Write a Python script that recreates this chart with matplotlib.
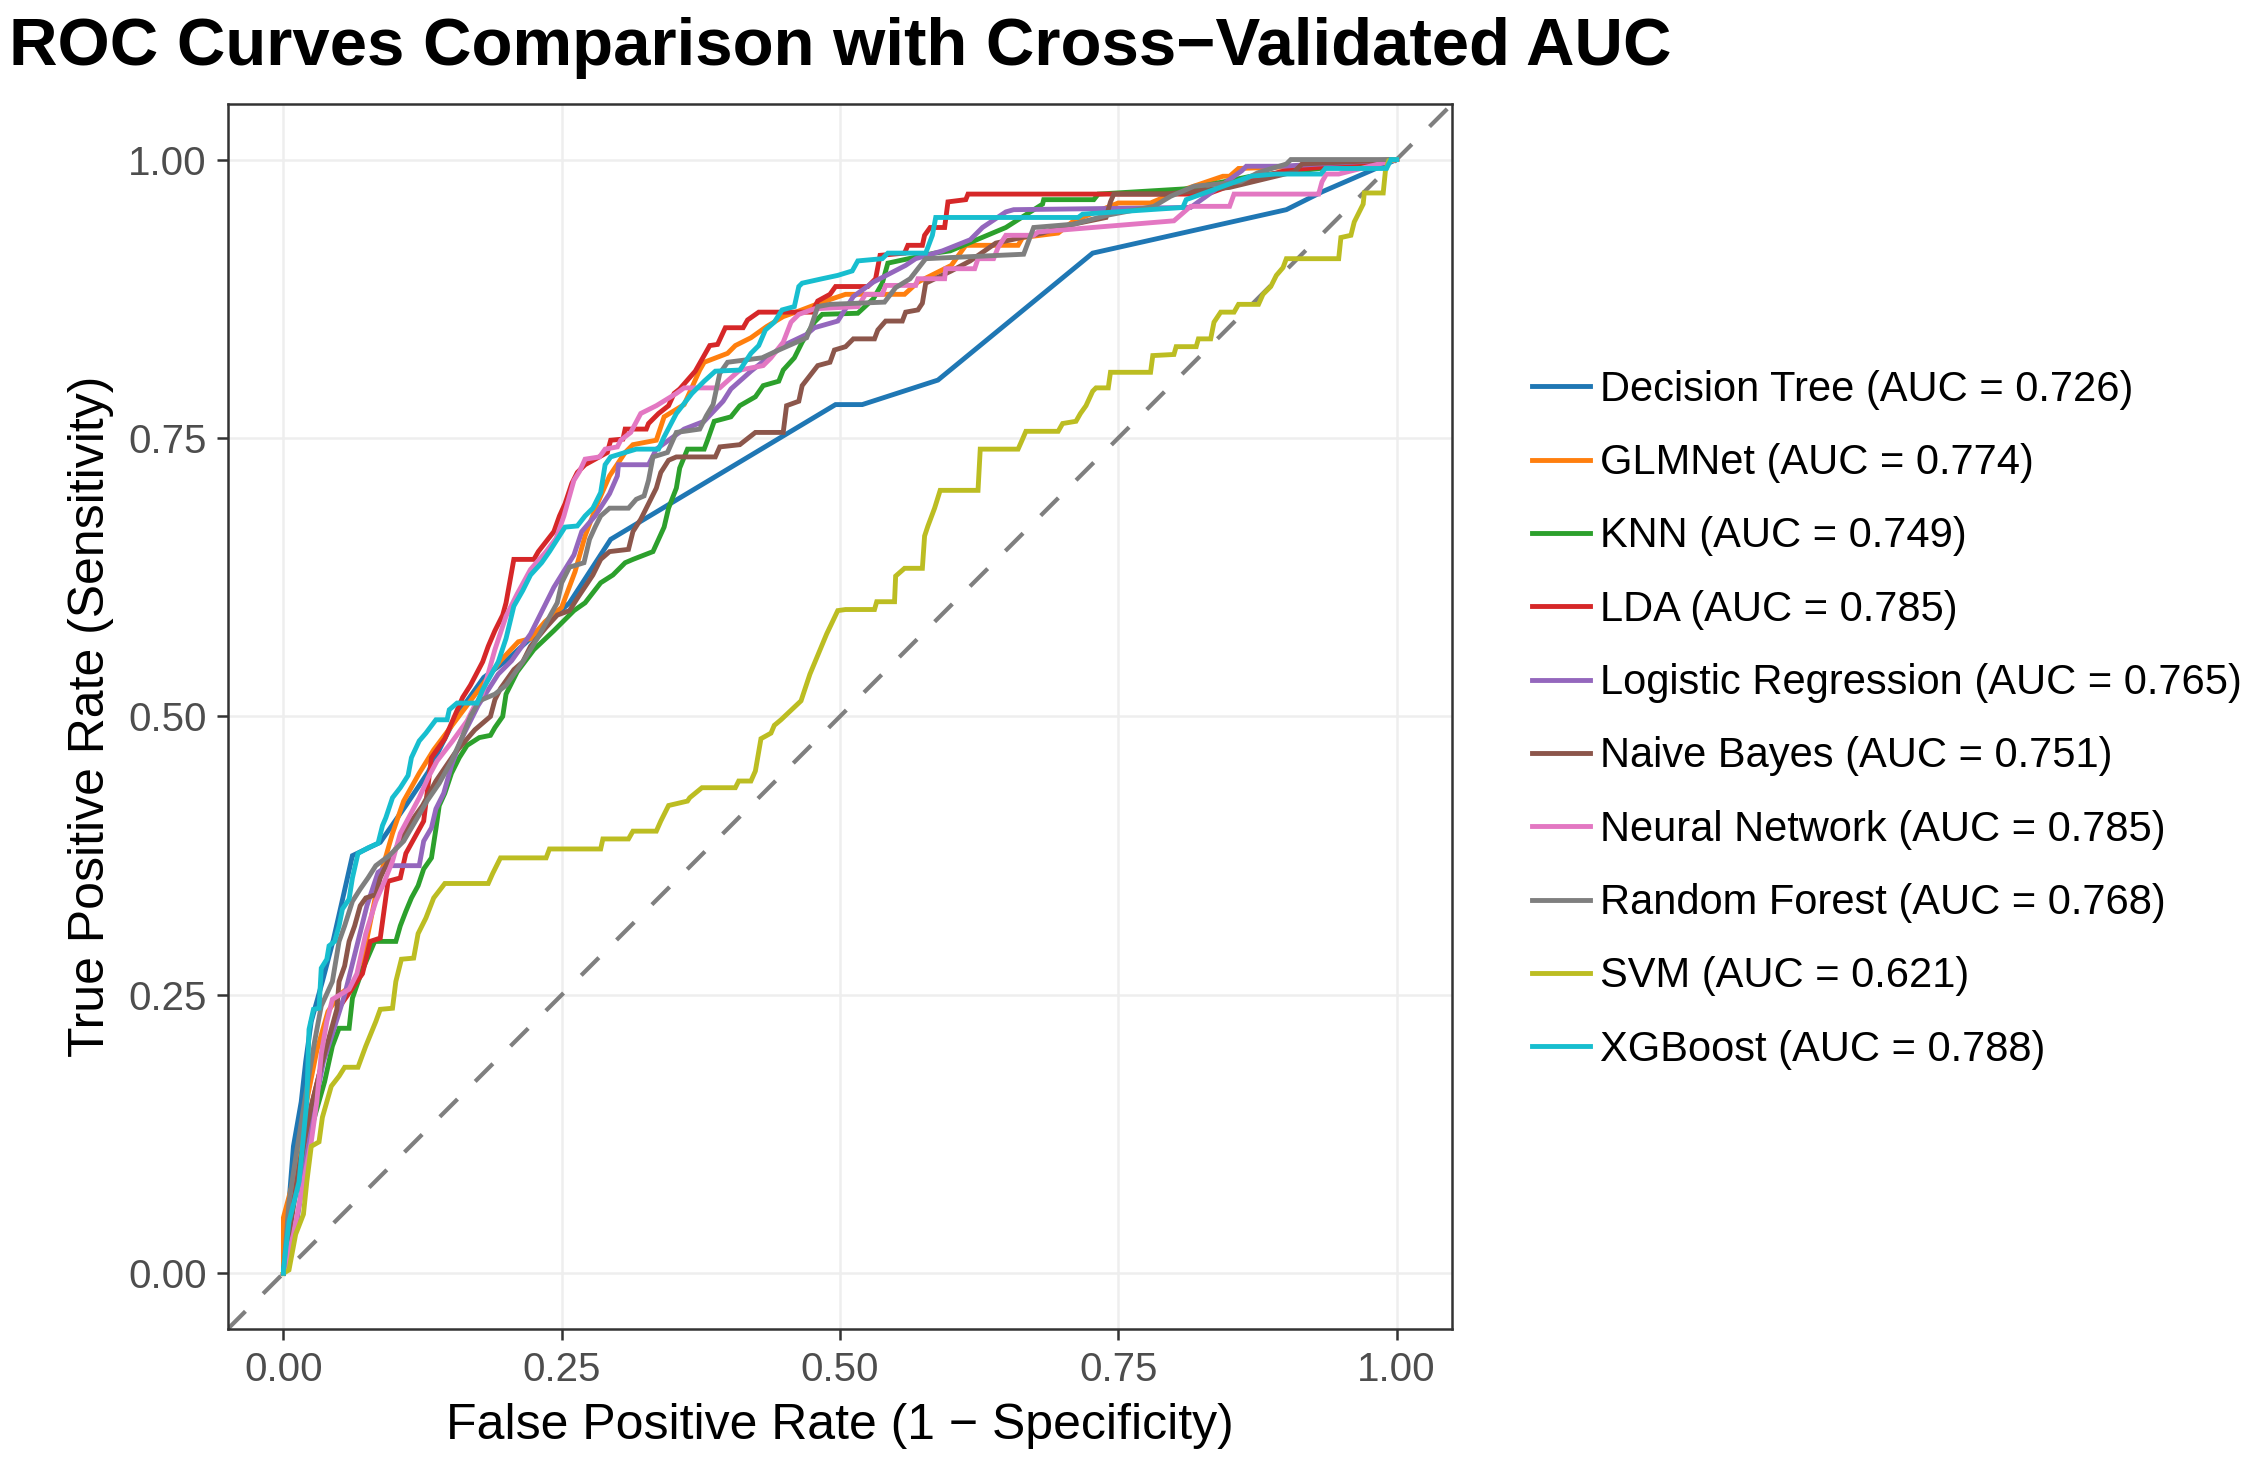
import matplotlib
matplotlib.use("Agg")
import matplotlib.pyplot as plt

plt.rcParams['font.family'] = ['Liberation Sans', 'DejaVu Sans']

# ROC points (fpr, tpr)
dt_pts = [(0,0),(0.009,0.114),(0.016,0.154),(0.02,0.19),(0.025,0.226),(0.035,0.262),(0.045,0.30),(0.062,0.375),
          (0.087,0.387),(0.11,0.42),(0.13,0.45),(0.155,0.50),(0.18,0.535),(0.20,0.55),(0.257,0.602),(0.294,0.659),
          (0.496,0.78),(0.52,0.78),(0.588,0.802),(0.727,0.916),(0.901,0.955),(0.933,0.971),(1,1)]

glm_pts = [(0,0),(0,0.05),(0.008,0.08),(0.015,0.12),(0.022,0.16),(0.03,0.2),(0.04,0.235),(0.05,0.25),(0.066,0.262),
           (0.075,0.3),(0.085,0.35),(0.098,0.395),(0.108,0.424),(0.122,0.449),(0.135,0.47),(0.15,0.49),(0.165,0.51),
           (0.18,0.53),(0.195,0.55),(0.211,0.567),(0.222,0.57),(0.235,0.585),(0.25,0.598),(0.262,0.63),(0.271,0.662),
           (0.282,0.691),(0.293,0.716),(0.307,0.737),(0.314,0.744),(0.335,0.748),(0.342,0.769),(0.36,0.78),
           (0.374,0.811),(0.378,0.818),(0.399,0.826),(0.406,0.833),(0.42,0.84),(0.434,0.85),(0.449,0.859),
           (0.463,0.864),(0.484,0.872),(0.505,0.879),(0.558,0.879),(0.57,0.89),(0.6,0.905),(0.613,0.923),
           (0.66,0.923),(0.664,0.93),(0.696,0.934),(0.71,0.945),(0.75,0.961),(0.779,0.961),(0.8,0.97),
           (0.844,0.985),(0.85,0.985),(0.858,0.992),(0.95,0.995),(1,1)]

knn_pts = [(0,0),(0.005,0.046),(0.015,0.09),(0.025,0.13),(0.037,0.172),(0.044,0.204),(0.05,0.22),(0.059,0.22),
           (0.062,0.247),(0.07,0.27),(0.082,0.298),(0.101,0.298),(0.105,0.312),(0.11,0.325),(0.115,0.337),
           (0.121,0.348),(0.126,0.363),(0.133,0.373),(0.137,0.399),(0.14,0.42),(0.145,0.431),(0.151,0.449),
           (0.158,0.463),(0.165,0.474),(0.176,0.481),(0.186,0.483),(0.19,0.49),(0.197,0.5),(0.2,0.52),(0.21,0.54),
           (0.225,0.56),(0.243,0.577),(0.25,0.584),(0.261,0.595),(0.271,0.602),(0.285,0.62),(0.296,0.627),
           (0.307,0.638),(0.314,0.641),(0.332,0.648),(0.342,0.67),(0.346,0.687),(0.353,0.705),(0.356,0.723),
           (0.363,0.74),(0.378,0.74),(0.381,0.748),(0.387,0.765),(0.402,0.769),(0.41,0.779),(0.424,0.787),
           (0.431,0.797),(0.445,0.801),(0.449,0.811),(0.459,0.822),(0.466,0.836),(0.477,0.854),(0.484,0.861),
           (0.516,0.862),(0.53,0.875),(0.538,0.889),(0.543,0.907),(0.585,0.916),(0.599,0.918),(0.649,0.939),
           (0.682,0.96),(0.683,0.964),(0.728,0.964),(0.732,0.969),(0.815,0.974),(0.869,0.985),(0.905,0.989),(1,1)]

lda_pts = [(0,0),(0.005,0.04),(0.015,0.10),(0.025,0.15),(0.035,0.19),(0.045,0.22),(0.051,0.24),(0.066,0.262),
           (0.071,0.269),(0.078,0.298),(0.087,0.301),(0.094,0.352),(0.105,0.355),(0.11,0.377),(0.126,0.406),
           (0.133,0.463),(0.145,0.48),(0.161,0.517),(0.168,0.528),(0.179,0.549),(0.184,0.563),(0.19,0.577),
           (0.197,0.591),(0.2,0.602),(0.207,0.641),(0.225,0.641),(0.229,0.648),(0.236,0.657),(0.243,0.666),
           (0.248,0.68),(0.253,0.691),(0.259,0.709),(0.264,0.719),(0.271,0.726),(0.291,0.737),(0.294,0.748),
           (0.305,0.749),(0.307,0.758),(0.326,0.758),(0.328,0.763),(0.337,0.772),(0.346,0.779),(0.351,0.79),
           (0.356,0.794),(0.37,0.81),(0.383,0.833),(0.39,0.834),(0.397,0.849),(0.413,0.849),(0.417,0.856),
           (0.427,0.863),(0.475,0.863),(0.48,0.873),(0.491,0.879),(0.496,0.886),(0.525,0.886),(0.532,0.893),
           (0.536,0.914),(0.558,0.916),(0.561,0.923),(0.574,0.923),(0.576,0.932),(0.581,0.939),(0.594,0.939),
           (0.597,0.962),(0.613,0.964),(0.615,0.969),(0.83,0.969),(0.86,0.98),(0.9,0.99),(1,1)]

lr_pts = [(0,0),(0.012,0.046),(0.02,0.1),(0.028,0.15),(0.036,0.19),(0.044,0.215),(0.055,0.25),(0.065,0.29),
          (0.075,0.33),(0.085,0.36),(0.094,0.366),(0.122,0.366),(0.126,0.388),(0.133,0.40),(0.137,0.417),
          (0.144,0.431),(0.151,0.456),(0.16,0.48),(0.175,0.51),(0.193,0.538),(0.205,0.55),(0.222,0.574),
          (0.236,0.602),(0.243,0.616),(0.261,0.645),(0.268,0.666),(0.28,0.68),(0.293,0.7),(0.3,0.716),
          (0.301,0.726),(0.328,0.726),(0.335,0.74),(0.353,0.753),(0.36,0.758),(0.378,0.765),(0.395,0.783),
          (0.402,0.794),(0.42,0.81),(0.449,0.833),(0.47,0.843),(0.477,0.849),(0.498,0.855),(0.512,0.877),
          (0.53,0.89),(0.559,0.905),(0.568,0.911),(0.592,0.918),(0.617,0.928),(0.628,0.939),(0.649,0.953),
          (0.656,0.955),(0.815,0.957),(0.861,0.99),(0.865,0.994),(0.897,0.994),(1,1)]

nb_pts = [(0,0),(0.007,0.046),(0.015,0.1),(0.025,0.15),(0.035,0.19),(0.048,0.237),(0.05,0.262),(0.055,0.276),
          (0.059,0.298),(0.064,0.312),(0.069,0.33),(0.074,0.337),(0.083,0.34),(0.087,0.355),(0.094,0.37),
          (0.105,0.388),(0.115,0.406),(0.125,0.42),(0.137,0.442),(0.154,0.467),(0.172,0.488),(0.186,0.5),
          (0.19,0.515),(0.195,0.525),(0.207,0.542),(0.215,0.549),(0.222,0.563),(0.236,0.58),(0.246,0.591),
          (0.257,0.595),(0.264,0.606),(0.278,0.627),(0.285,0.641),(0.293,0.648),(0.31,0.65),(0.314,0.666),
          (0.321,0.677),(0.328,0.691),(0.335,0.705),(0.339,0.719),(0.346,0.73),(0.353,0.733),(0.388,0.733),
          (0.392,0.742),(0.41,0.744),(0.424,0.755),(0.449,0.755),(0.452,0.779),(0.463,0.783),(0.466,0.797),
          (0.48,0.815),(0.491,0.818),(0.495,0.829),(0.505,0.832),(0.512,0.839),(0.531,0.839),(0.534,0.847),
          (0.541,0.855),(0.556,0.855),(0.559,0.863),(0.57,0.865),(0.574,0.871),(0.577,0.889),(0.6,0.9),
          (0.617,0.909),(0.64,0.925),(0.682,0.934),(0.7,0.94),(0.739,0.948),(0.743,0.962),(0.746,0.969),
          (0.793,0.969),(0.85,0.975),(0.908,0.989),(0.915,0.996),(1,1)]

nn_pts = [(0,0),(0.009,0.035),(0.016,0.071),(0.025,0.118),(0.03,0.154),(0.034,0.197),(0.039,0.226),(0.044,0.246),
          (0.059,0.255),(0.066,0.269),(0.074,0.305),(0.083,0.334),(0.09,0.35),(0.098,0.37),(0.105,0.395),
          (0.113,0.41),(0.122,0.427),(0.13,0.445),(0.138,0.46),(0.152,0.478),(0.165,0.496),(0.172,0.51),
          (0.179,0.521),(0.183,0.535),(0.19,0.56),(0.2,0.59),(0.21,0.61),(0.222,0.632),(0.236,0.648),(0.245,0.66),
          (0.252,0.68),(0.261,0.712),(0.266,0.72),(0.271,0.731),(0.284,0.733),(0.289,0.74),(0.3,0.742),
          (0.303,0.748),(0.312,0.755),(0.321,0.772),(0.335,0.779),(0.353,0.79),(0.36,0.795),(0.392,0.795),
          (0.402,0.804),(0.41,0.811),(0.431,0.815),(0.438,0.822),(0.449,0.836),(0.456,0.854),(0.463,0.861),
          (0.477,0.866),(0.516,0.868),(0.523,0.879),(0.538,0.879),(0.541,0.887),(0.568,0.887),(0.57,0.893),
          (0.594,0.893),(0.595,0.902),(0.621,0.902),(0.624,0.911),(0.638,0.911),(0.642,0.921),(0.649,0.932),
          (0.674,0.932),(0.678,0.935),(0.8,0.945),(0.815,0.958),(0.85,0.958),(0.854,0.969),(0.93,0.969),
          (0.933,0.98),(0.937,0.987),(0.948,0.987),(1,1)]

rf_pts = [(0,0),(0.005,0.064),(0.012,0.11),(0.02,0.16),(0.028,0.208),(0.034,0.24),(0.044,0.262),(0.05,0.298),
          (0.055,0.312),(0.062,0.334),(0.069,0.345),(0.076,0.355),(0.083,0.366),(0.095,0.375),(0.108,0.388),
          (0.118,0.405),(0.129,0.424),(0.14,0.44),(0.151,0.46),(0.16,0.48),(0.168,0.5),(0.176,0.514),(0.19,0.52),
          (0.2,0.528),(0.215,0.549),(0.225,0.565),(0.236,0.584),(0.246,0.602),(0.25,0.62),(0.257,0.634),
          (0.27,0.638),(0.275,0.659),(0.28,0.67),(0.285,0.68),(0.293,0.687),(0.31,0.687),(0.317,0.695),
          (0.324,0.698),(0.328,0.712),(0.332,0.733),(0.345,0.737),(0.353,0.755),(0.374,0.758),(0.38,0.77),
          (0.386,0.78),(0.392,0.808),(0.399,0.818),(0.43,0.822),(0.445,0.829),(0.47,0.84),(0.474,0.85),
          (0.48,0.868),(0.491,0.87),(0.54,0.872),(0.55,0.885),(0.563,0.893),(0.577,0.911),(0.665,0.915),
          (0.674,0.939),(0.71,0.942),(0.74,0.95),(0.782,0.958),(0.797,0.967),(0.818,0.976),(0.86,0.98),
          (0.875,0.988),(0.901,0.996),(0.905,1.0),(1,1)]

svm_pts = [(0,0),(0.005,0.003),(0.011,0.035),(0.018,0.053),(0.021,0.082),(0.025,0.114),(0.032,0.118),(0.035,0.14),
           (0.043,0.168),(0.05,0.177),(0.055,0.185),(0.067,0.185),(0.074,0.204),(0.083,0.226),(0.087,0.237),
           (0.098,0.238),(0.101,0.262),(0.106,0.282),(0.117,0.283),(0.121,0.305),(0.128,0.319),(0.135,0.337),
           (0.145,0.35),(0.184,0.35),(0.188,0.359),(0.195,0.373),(0.236,0.373),(0.239,0.381),(0.285,0.381),
           (0.287,0.39),(0.31,0.39),(0.314,0.397),(0.335,0.397),(0.339,0.406),(0.346,0.42),(0.363,0.424),
           (0.365,0.427),(0.376,0.436),(0.406,0.436),(0.409,0.442),(0.42,0.442),(0.424,0.451),(0.429,0.48),
           (0.438,0.485),(0.441,0.492),(0.447,0.497),(0.465,0.514),(0.473,0.538),(0.488,0.574),(0.498,0.595),
           (0.505,0.596),(0.531,0.596),(0.533,0.603),(0.549,0.603),(0.55,0.626),(0.558,0.633),(0.574,0.633),
           (0.576,0.662),(0.579,0.671),(0.585,0.687),(0.59,0.703),(0.624,0.703),(0.626,0.74),(0.66,0.74),
           (0.664,0.749),(0.667,0.756),(0.696,0.756),(0.7,0.763),(0.712,0.765),(0.716,0.772),(0.721,0.779),
           (0.727,0.792),(0.73,0.795),(0.741,0.795),(0.743,0.809),(0.779,0.809),(0.781,0.824),(0.8,0.825),
           (0.802,0.832),(0.82,0.832),(0.822,0.839),(0.833,0.839),(0.836,0.854),(0.842,0.863),(0.854,0.863),
           (0.858,0.87),(0.876,0.87),(0.88,0.879),(0.887,0.886),(0.892,0.896),(0.898,0.903),(0.901,0.911),
           (0.948,0.911),(0.95,0.93),(0.959,0.932),(0.962,0.944),(0.97,0.96),(0.971,0.97),(0.988,0.97),
           (0.99,0.99),(0.993,0.999),(1,1)]

xgb_pts = [(0,0),(0,0.003),(0.005,0.046),(0.014,0.082),(0.021,0.154),(0.023,0.219),(0.027,0.237),(0.032,0.238),
           (0.034,0.274),(0.039,0.282),(0.041,0.294),(0.046,0.298),(0.05,0.312),(0.053,0.327),(0.059,0.336),
           (0.062,0.355),(0.067,0.377),(0.076,0.382),(0.085,0.386),(0.089,0.402),(0.092,0.409),(0.098,0.427),
           (0.105,0.436),(0.112,0.447),(0.115,0.463),(0.122,0.478),(0.128,0.485),(0.137,0.497),(0.147,0.497),
           (0.149,0.506),(0.156,0.512),(0.174,0.512),(0.179,0.524),(0.193,0.549),(0.2,0.57),(0.207,0.599),
           (0.215,0.613),(0.222,0.627),(0.232,0.638),(0.239,0.648),(0.246,0.659),(0.253,0.67),(0.264,0.671),
           (0.271,0.68),(0.278,0.687),(0.285,0.701),(0.289,0.726),(0.294,0.733),(0.307,0.737),(0.317,0.74),
           (0.337,0.74),(0.342,0.751),(0.353,0.772),(0.367,0.79),(0.378,0.801),(0.388,0.81),(0.41,0.811),
           (0.42,0.826),(0.427,0.833),(0.433,0.847),(0.441,0.854),(0.448,0.865),(0.459,0.868),(0.463,0.886),
           (0.466,0.889),(0.484,0.893),(0.498,0.896),(0.511,0.9),(0.516,0.909),(0.538,0.911),(0.543,0.916),
           (0.577,0.916),(0.583,0.932),(0.586,0.948),(0.714,0.948),(0.718,0.951),(0.808,0.957),(0.811,0.964),
           (0.869,0.985),(0.891,0.987),(0.932,0.987),(0.936,0.992),(0.991,0.992),(0.995,1.0),(1,1)]

models = ["Decision Tree", "GLMNet", "KNN", "LDA", "Logistic Regression",
          "Naive Bayes", "Neural Network", "Random Forest", "SVM", "XGBoost"]
aucs = [0.726, 0.774, 0.749, 0.785, 0.765, 0.751, 0.785, 0.768, 0.621, 0.788]
curves = [dt_pts, glm_pts, knn_pts, lda_pts, lr_pts, nb_pts, nn_pts, rf_pts, svm_pts, xgb_pts]
colors = ["#1F77B4", "#FF7F0E", "#2CA02C", "#D62728", "#9467BD",
          "#8C564B", "#E377C2", "#7F7F7F", "#BCBD22", "#17BECF"]
ticks = [0.0, 0.25, 0.5, 0.75, 1.0]
tick_labels = ["0.00", "0.25", "0.50", "0.75", "1.00"]

fig = plt.figure(figsize=(22.55, 14.63), dpi=100)
ax = fig.add_axes([0.101, 0.0916, 0.543, 0.8374])

ax.set_xlim(-0.05, 1.05)
ax.set_ylim(-0.05, 1.05)

# chance line
ax.plot([-0.05, 1.05], [-0.05, 1.05], color="#7F7F7F", lw=3, ls=(0, (6, 6)), zorder=2)

for name, auc, pts, col in zip(models, aucs, curves, colors):
    fx = [p[0] for p in pts]
    fy = [p[1] for p in pts]
    ax.plot(fx, fy, color=col, lw=3.5, label=f"{name} (AUC = {auc:.3f})", zorder=3,
            solid_joinstyle="miter")

ax.set_xticks(ticks)
ax.set_yticks(ticks)
ax.set_xticklabels(tick_labels)
ax.set_yticklabels(tick_labels)
ax.grid(True, color="#EEEEEE", lw=1.8, zorder=0)
ax.set_axisbelow(True)
ax.tick_params(axis="both", labelsize=29, labelcolor="#4D4D4D", color="#333333",
               length=8, width=1.8)
ax.tick_params(axis="x", pad=8)
ax.tick_params(axis="y", pad=7)
for s in ax.spines.values():
    s.set_color("#333333")
    s.set_linewidth(1.8)

ax.set_xlabel("False Positive Rate (1 \u2212 Specificity)", fontsize=36, labelpad=10)
ax.set_ylabel("True Positive Rate (Sensitivity)", fontsize=36, labelpad=10)

fig.text(0.004, 0.967, "ROC Curves Comparison with Cross\u2212Validated AUC",
         fontsize=48.3, fontweight="bold", ha="left", va="center")

leg = ax.legend(loc="center left", bbox_to_anchor=(0.672, 0.508), bbox_transform=fig.transFigure,
                frameon=False, fontsize=30, handlelength=1.4, handletextpad=0.22,
                labelspacing=0.80, borderaxespad=0)

fig.savefig("out.png", dpi=100, facecolor="white")
